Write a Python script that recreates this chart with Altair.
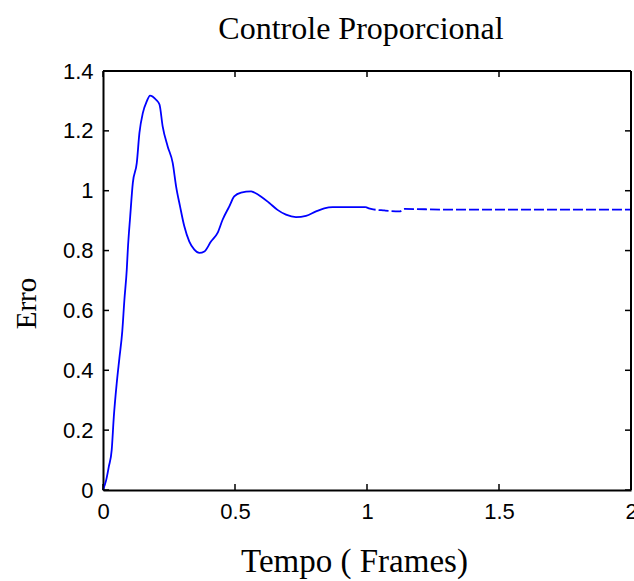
import altair as alt
import pandas as pd

# --- data ---
tempo = [0.000, 0.012, 0.022, 0.033, 0.041, 0.052, 0.062, 0.073, 0.081, 0.090,
         0.094, 0.103, 0.113, 0.128, 0.138, 0.151, 0.166, 0.178, 0.201, 0.214,
         0.226, 0.245, 0.264, 0.277, 0.292, 0.308, 0.327, 0.346, 0.365, 0.384,
         0.409, 0.434, 0.453, 0.478, 0.497, 0.523, 0.561, 0.573, 0.598, 0.630,
         0.661, 0.693, 0.731, 0.769, 0.807, 0.838, 0.870, 0.996, 1.015, 1.066,
         1.123, 1.142, 1.300, 1.500, 1.700, 2.000]
erro = [0.000, 0.033, 0.078, 0.134, 0.245, 0.357, 0.440, 0.530, 0.635, 0.736,
        0.803, 0.914, 1.026, 1.093, 1.193, 1.260, 1.299, 1.318, 1.304, 1.288,
        1.215, 1.148, 1.093, 1.014, 0.947, 0.881, 0.830, 0.803, 0.792, 0.797,
        0.830, 0.859, 0.903, 0.947, 0.981, 0.994, 0.998, 0.994, 0.981, 0.959,
        0.936, 0.920, 0.912, 0.916, 0.931, 0.941, 0.945, 0.945, 0.939, 0.934,
        0.931, 0.939, 0.937, 0.937, 0.937, 0.937]
x_ticks = [0, 0.5, 1, 1.5, 2]
y_ticks = [0, 0.2, 0.4, 0.6, 0.8, 1, 1.2, 1.4]
limite_solido = 1.0

W, H = 528, 419
TICK = 6

df = pd.DataFrame({"t": tempo, "e": erro})
dfx = pd.DataFrame({"t": x_ticks})
dfy = pd.DataFrame({"e": y_ticks})

xscale = alt.Scale(domain=[0, 2], nice=False, zero=False)
yscale = alt.Scale(domain=[0, 1.4], nice=False, zero=False)

xaxis = alt.Axis(values=x_ticks, labelExpr="'' + datum.value", grid=False, domain=True,
                 domainColor="black", domainWidth=2,
                 ticks=False, tickSize=0, labelFont="Liberation Sans", labelFontSize=22,
                 labelColor="black", labelPadding=11, labelFlush=False, title="Tempo ( Frames)",
                 titleFont="Liberation Serif", titleFontSize=33, titleFontWeight="normal",
                 titleColor="black", titleX=251, titleY=81, titleAlign="center",
                 titleBaseline="alphabetic", titleAngle=0)
yaxis = alt.Axis(values=y_ticks, labelExpr="'' + datum.value", grid=False, domain=True,
                 domainColor="black", domainWidth=2,
                 ticks=False, tickSize=0, labelFont="Liberation Sans", labelFontSize=22,
                 labelColor="black", labelPadding=10, labelFlush=False, title="Erro",
                 titleFont="Liberation Serif", titleFontSize=29, titleFontWeight="normal",
                 titleColor="black", titleX=-68, titleY=232, titleAlign="center",
                 titleBaseline="alphabetic", titleAngle=270)

base = alt.Chart(df)
solid = base.transform_filter(alt.datum.t <= limite_solido).mark_line(
    color="#0000ff", strokeWidth=1.8, interpolate="monotone").encode(
    x=alt.X("t:Q", scale=xscale, axis=xaxis),
    y=alt.Y("e:Q", scale=yscale, axis=yaxis),
)
dashed = base.transform_filter(alt.datum.t >= 0.996).mark_line(
    color="#0000ff", strokeWidth=1.8, strokeDash=[10, 3], interpolate="monotone").encode(
    x=alt.X("t:Q", scale=xscale),
    y=alt.Y("e:Q", scale=yscale),
)

xt_bottom = alt.Chart(dfx).mark_rule(color="black", strokeWidth=1.5).encode(
    x=alt.X("t:Q", scale=xscale), y=alt.value(H - TICK), y2=alt.value(H))
xt_top = alt.Chart(dfx).mark_rule(color="black", strokeWidth=1.5).encode(
    x=alt.X("t:Q", scale=xscale), y=alt.value(0), y2=alt.value(TICK))
yt_left = alt.Chart(dfy).mark_rule(color="black", strokeWidth=1.5).encode(
    y=alt.Y("e:Q", scale=yscale), x=alt.value(0), x2=alt.value(TICK))
yt_right = alt.Chart(dfy).mark_rule(color="black", strokeWidth=1.5).encode(
    y=alt.Y("e:Q", scale=yscale), x=alt.value(W - TICK), x2=alt.value(W))

# top and right sides of the box
frame_top = alt.Chart(dfx).mark_rule(color="black", strokeWidth=2).encode(
    y=alt.datum(y_ticks[-1], scale=yscale), x=alt.value(0), x2=alt.value(W))
frame_right = alt.Chart(dfy).mark_rule(color="black", strokeWidth=2).encode(
    x=alt.datum(x_ticks[-1], scale=xscale), y=alt.value(0), y2=alt.value(H))

chart = alt.layer(solid, dashed, xt_bottom, xt_top, yt_left, yt_right,
                  frame_top, frame_right).properties(
    width=W, height=H,
    autosize="none",
    padding={"left": 103, "top": 71, "right": 3, "bottom": 91},
    title=alt.TitleParams("Controle Proporcional", font="Liberation Serif", fontSize=32,
                          fontWeight="normal", color="black", offset=31, dx=-6, dy=42,
                          baseline="alphabetic", anchor="middle", frame="group"),
).configure_view(stroke="black", strokeWidth=2, strokeOpacity=1).configure(background="white")

chart.save("out.html", embed_options={"renderer": "svg", "actions": False})
